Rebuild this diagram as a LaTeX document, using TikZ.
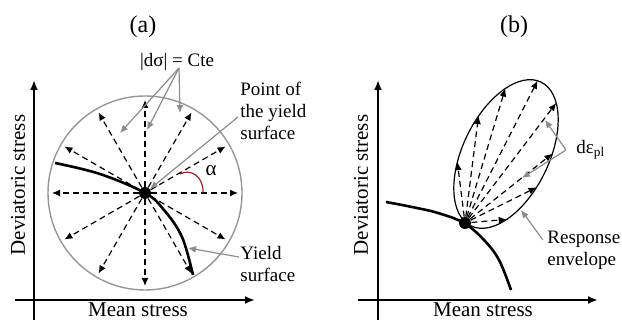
\documentclass[tikz,border=0pt]{standalone}
\usepackage{fontspec}
\setmainfont{Liberation Serif}
\usepackage{xcolor}
\usetikzlibrary{arrows.meta,shapes.geometric,calc}

\definecolor{ptrgray}{RGB}{140,140,140}
\definecolor{envgray}{RGB}{150,150,150}
\definecolor{arcred}{RGB}{140,40,40}

\begin{document}
\begin{tikzpicture}[
  x=0.5pt, y=0.5pt,
  ttl/.style   = {font=\fontsize{12}{14}\selectfont},
  axlbl/.style = {font=\fontsize{10.5}{12}\selectfont},
  lbl/.style   = {font=\fontsize{9.5}{11}\selectfont, align=left, inner sep=0pt},
  axis/.style  = {line width=1.1pt, -{Latex[length=5pt,width=4pt]}},
  dasharr/.style = {line width=0.6pt, dash pattern=on 3pt off 2pt,
                    -{Latex[length=4pt,width=3.5pt]}},
  ptr/.style   = {draw=ptrgray, line width=0.6pt,
                  -{Latex[length=4pt,width=3.5pt]}},
  yld/.style   = {line width=1.3pt},
  dot/.style   = {circle, fill=black, inner sep=0pt, minimum size=6pt},
]
\useasboundingbox (0,0) rectangle (622,320);

%% --- (a) constant stress increment ---
\node[ttl] (ta) at (143,293) {(a)};

\coordinate (ya0) at (34,0);   \coordinate (ya1) at (34,240);
\coordinate (xa0) at (15,20);  \coordinate (xa1) at (255,20);
\draw[axis] (ya0) -- (ya1);
\draw[axis] (xa0) -- (xa1);
\node[axlbl, rotate=90] (dva) at (18,135) {Deviatoric stress};
\node[axlbl] (msa) at (138,10) {Mean stress};

\node[circle, draw=envgray, line width=0.7pt, minimum size=97pt, inner sep=0pt]
  (circA) at (145,127) {};

\draw[yld] plot[smooth, tension=0.6] coordinates
  {(55,157) (100,146) (145,127) (164,110) (182,83) (193,45)};

\node[dot] (dotA) at (145,127) {};

\foreach \a in {0,30,...,330} {
  \path (dotA.center) ++(\a:93) coordinate (tA\a);
  \draw[dasharr] (dotA) -- (tA\a);
}

%% angle alpha
\draw[arcred, line width=0.6pt] (203,127) .. controls (204,143) and (191,152) .. (180,146);
\node[font=\fontsize{10.5}{12}\selectfont] (alpha) at (211,149) {α};

%% |dsigma| = Cte
\node[lbl] (cte) at (177,258) {|dσ| = Cte};
\coordinate (cteo) at (179,252);
\coordinate (cte1) at (120,187);
\coordinate (cte2) at (147,190);
\coordinate (cte3) at (180,207);
\draw[ptr] (cteo) -- (cte1);
\draw[ptr] (cteo) -- (cte2);
\draw[ptr] (cteo) -- (cte3);

%% point of the yield surface
\node[lbl, anchor=west] (pys) at (240,209) {Point of\\the yield\\surface};
\coordinate (pyso) at (238,203);
\draw[ptr] (pyso) -- (dotA);

%% yield surface
\node[lbl, anchor=west] (ysa) at (240,56) {Yield\\surface};
\coordinate (ysao) at (239,63);
\coordinate (ysat) at (188,72);
\draw[ptr] (ysao) -- (ysat);

%% --- (b) response envelope ---
\node[ttl] (tb) at (514,293) {(b)};

\coordinate (yb0) at (378,0);   \coordinate (yb1) at (378,240);
\coordinate (xb0) at (358,20);  \coordinate (xb1) at (598,20);
\draw[axis] (yb0) -- (yb1);
\draw[axis] (xb0) -- (xb1);
\node[axlbl, rotate=90] (dvb) at (361,135) {Deviatoric stress};
\node[axlbl] (msb) at (483,10) {Mean stress};

\draw[yld] plot[smooth, tension=0.6] coordinates
  {(386,118) (412,113) (438,107) (464,97) (484,80) (499,60) (511,30)};

\node[ellipse, draw, line width=0.6pt, minimum width=80pt, minimum height=43pt,
      inner sep=0pt, rotate=64] (envB) at (506,166) {};

\node[dot] (dotB) at (465,97) {};

\foreach \t [count=\i] in {111,74,43,5,-32,-75,-102,-137} {
  \coordinate (tB\i) at ({506+80*cos(\t)*cos(64)-43*sin(\t)*sin(64)},
                         {166+80*cos(\t)*sin(64)+43*sin(\t)*cos(64)});
  \draw[dasharr] (dotB) -- (tB\i);
}

%% plastic strain increment
\node[lbl, anchor=west] (deps) at (576,170) {dε\textsubscript{pl}};
\coordinate (depso) at (566,170);
\coordinate (deps1) at (545,200);
\coordinate (deps2) at (522,142);
\draw[ptr] (depso) -- (deps1);
\draw[ptr] (depso) -- (deps2);

%% response envelope
\node[lbl, anchor=west] (renv) at (547,70) {Response\\envelope};
\coordinate (renvo) at (543,80);
\coordinate (renvt) at (521,110);
\draw[ptr] (renvo) -- (renvt);
\end{tikzpicture}
\end{document}
